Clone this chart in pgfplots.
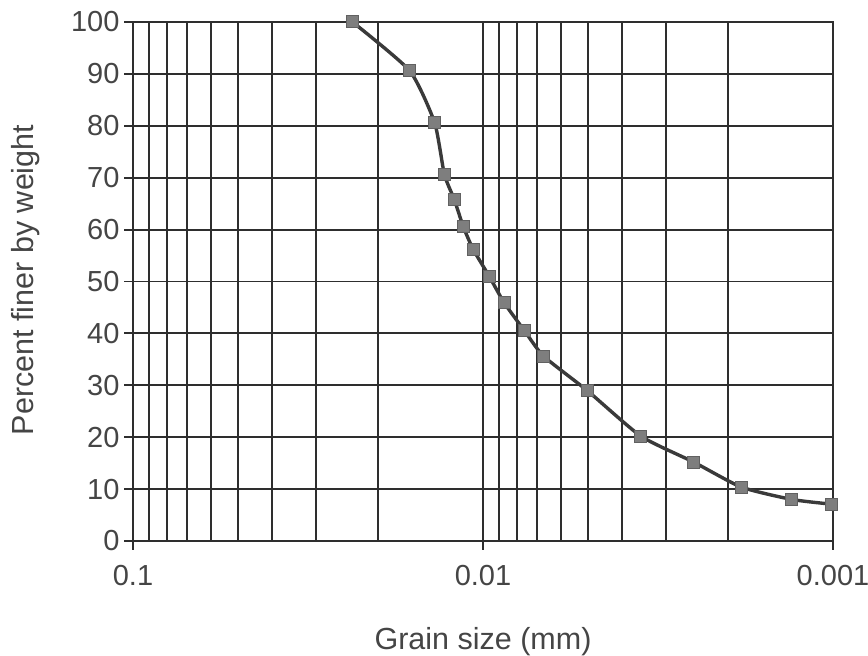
\documentclass[border=0pt]{standalone}
\usepackage{fontspec}
\setmainfont{Liberation Sans}
\usepackage{pgfplots}
\pgfplotsset{compat=1.18}
\definecolor{txt}{HTML}{454545}
\definecolor{gridc}{HTML}{2E2E2E}
\definecolor{curve}{HTML}{3A3A3A}
\definecolor{mfill}{HTML}{7E7E7E}
\begin{document}
\begin{tikzpicture}
\path[use as bounding box] (0,0) rectangle (868pt,656pt);
\begin{axis}[
  at={(133pt,115pt)}, anchor=south west,
  scale only axis, width=700pt, height=519pt,
  xmode=log, x dir=reverse,
  xmin=0.001, xmax=0.1,
  ymin=0, ymax=100,
  xtick={0.1,0.01,0.001}, xticklabels={0.1,0.01,0.001},
  minor xtick={0.09,0.08,0.07,0.06,0.05,0.04,0.03,0.02,0.009,0.008,0.007,0.006,0.005,0.004,0.003,0.002},
  ytick={0,10,...,100},
  xminorgrids=true, ymajorgrids=true, xmajorgrids=true,
  grid style={gridc, line width=1.9pt},
  minor grid style={gridc, line width=1.9pt},
  axis line style={gridc, line width=1.9pt},
  tick style={gridc, line width=1.9pt},
  tick align=outside, major tick length=9pt, minor tick length=0pt,
  xtick pos=bottom, ytick pos=left,
  font=\fontsize{29}{34}\selectfont,
  every tick label/.append style={text=txt},
  /pgf/number format/assume math mode=true,
  xticklabel style={yshift=-12pt},
  yticklabel style={xshift=-1pt},
  xlabel={Grain size (mm)}, ylabel={Percent finer by weight},
  label style={text=txt, font=\fontsize{30.5}{34}\selectfont},
  xlabel style={at={(axis description cs:0.5,-0.193)}, anchor=center},
  ylabel style={at={(axis description cs:-0.154,0.503)}, anchor=center},
  clip=false,
]
\addplot[curve, line width=3.4pt, smooth, tension=0.35,
  mark=square*, mark size=6pt,
  mark options={fill=mfill, draw=curve!80, line width=1pt}]
  table {
x y
0.0236 100
0.0162 90.6
0.01375 80.6
0.01289 70.6
0.01208 65.8
0.01139 60.6
0.01067 56.2
0.0096 51
0.0087 45.9
0.00761 40.5
0.00671 35.6
0.00504 29
0.00354 20.2
0.0025 15.2
0.00183 10.4
0.00131 8.0
0.00101 7.1
};
\end{axis}
\end{tikzpicture}
\end{document}
